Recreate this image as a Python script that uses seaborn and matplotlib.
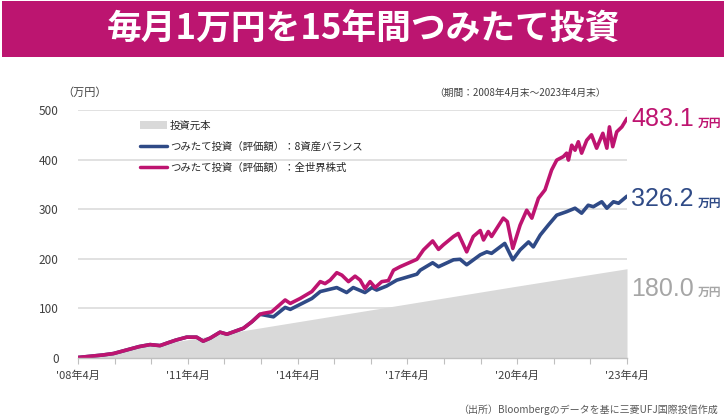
import numpy as np
import pandas as pd
import matplotlib
matplotlib.use('Agg')
import matplotlib.pyplot as plt
from matplotlib.patches import Patch, Rectangle
from matplotlib.lines import Line2D
import seaborn as sns

# data (万円), x as decimal year
principal_years = [2008.33, 2011.33, 2014.33, 2017.33, 2020.33, 2023.33]
principal_vals = [1, 37, 73, 109, 145, 180]

# both series overlap until mid 2013
shared_years = [2008.33, 2008.6, 2009.0, 2009.3, 2009.5, 2009.75, 2010.0, 2010.3, 2010.57,
                2010.8, 2011.0, 2011.3, 2011.57, 2011.75, 2011.94, 2012.21, 2012.4,
                2012.85, 2013.08, 2013.3]
shared_vals = [1, 3, 6, 9, 13, 18, 23, 27, 25, 31, 36, 42, 42, 34, 40, 52, 48, 60, 73, 88]

balance_years = [2013.39, 2013.67, 2013.99, 2014.13, 2014.72, 2014.95, 2015.4, 2015.67,
                 2015.85, 2016.17, 2016.36, 2016.49, 2016.76, 2017.04, 2017.59, 2017.68,
                 2018.02, 2018.18, 2018.59, 2018.77, 2018.95, 2019.32, 2019.5, 2019.63,
                 2019.99, 2020.21, 2020.41, 2020.64, 2020.77, 2020.96, 2021.18, 2021.41,
                 2021.68, 2021.91, 2022.09, 2022.27, 2022.41, 2022.64, 2022.78, 2022.96,
                 2023.1, 2023.33]
balance_vals = [87, 83, 102, 98, 120, 134, 142, 132, 142, 132, 142, 137, 145, 157, 169, 177,
                192, 184, 198, 199, 188, 208, 214, 211, 231, 198, 218, 234, 224, 248, 268, 288,
                295, 302, 292, 308, 305, 315, 302, 315, 312, 326.2]

world_years = [2013.39, 2013.62, 2013.99, 2014.13, 2014.4, 2014.72, 2014.95, 2015.08, 2015.22,
               2015.4, 2015.54, 2015.72, 2015.9, 2016.04, 2016.17, 2016.31, 2016.45, 2016.63,
               2016.81, 2016.95, 2017.13, 2017.59, 2017.77, 2018.02, 2018.18, 2018.31, 2018.59,
               2018.72, 2018.95, 2019.13, 2019.32, 2019.41, 2019.54, 2019.63, 2019.95, 2020.06,
               2020.21, 2020.41, 2020.59, 2020.73, 2020.91, 2021.09, 2021.27, 2021.41, 2021.59,
               2021.68, 2021.73, 2021.82, 2021.91, 2022.0, 2022.09, 2022.23, 2022.36, 2022.5,
               2022.67, 2022.78, 2022.85, 2022.94, 2023.05, 2023.19, 2023.33]
world_vals = [90, 93, 117, 110, 120, 134, 154, 150, 157, 172, 167, 154, 165, 157, 140, 154, 142,
              154, 156, 177, 184, 199, 218, 236, 219, 228, 245, 251, 214, 245, 257, 238, 255, 245,
              282, 275, 221, 268, 298, 282, 322, 339, 379, 399, 406, 413, 399, 429, 419, 436, 413,
              439, 450, 423, 453, 423, 466, 426, 456, 466, 483.1]

tick_years = [2008.33, 2011.33, 2014.33, 2017.33, 2020.33, 2023.33]
tick_labels = ["'08年4月", "'11年4月", "'14年4月", "'17年4月", "'20年4月", "'23年4月"]

MAGENTA = '#BE1470'
NAVY = '#2F4A86'
FILL = '#D9D9D9'

sns.set_theme(style='white')
plt.rcParams['font.family'] = ['Noto Sans CJK JP', 'DejaVu Sans']

balance = pd.DataFrame({'year': shared_years + balance_years, 'value': shared_vals + balance_vals})
world = pd.DataFrame({'year': shared_years + world_years, 'value': shared_vals + world_vals})

fig = plt.figure(figsize=(7.26, 4.2), dpi=100)
ax = fig.add_axes([78 / 726, 1 - 358 / 420, 549 / 726, 248 / 420])

# principal area
ax.fill_between(principal_years, 0, principal_vals, color=FILL, lw=0, zorder=1)

sns.lineplot(data=balance, x='year', y='value', ax=ax, color=NAVY, lw=2.6, zorder=3)
sns.lineplot(data=world, x='year', y='value', ax=ax, color=MAGENTA, lw=2.6, zorder=4)

ax.set_xlim(2008.33, 2023.33)
ax.set_ylim(0, 500)
ax.set_yticks([0, 100, 200, 300, 400, 500])
ax.set_xticks(tick_years)
ax.set_xticklabels(tick_labels)
ax.set_xticks(np.arange(2008.33, 2023.4, 1.0), minor=True)
ax.yaxis.grid(True, color='#DCDCDC', lw=1.2)
ax.set_axisbelow(True)
for s in ['left', 'top', 'right']:
    ax.spines[s].set_visible(False)
ax.spines['bottom'].set_color('#BFBFBF')
ax.spines['bottom'].set_linewidth(1.0)
ax.spines['bottom'].set_zorder(5)
ax.tick_params(axis='y', length=0, pad=14, labelsize=8.5, labelcolor='#404040')
ax.tick_params(axis='x', which='both', bottom=True, direction='out', length=4, width=0.8,
               color='#BFBFBF', labelsize=8, labelcolor='#404040', pad=5)
ax.set_xlabel('')
ax.set_ylabel('')

# legend
handles = [Patch(facecolor=FILL, edgecolor='none'),
           Line2D([], [], color=NAVY, lw=2.5),
           Line2D([], [], color=MAGENTA, lw=2.5)]
labels = ['投資元本', 'つみたて投資（評価額）：8資産バランス', 'つみたて投資（評価額）：全世界株式']
ax.legend(handles, labels, loc='upper left', bbox_to_anchor=(0.095, 0.995), frameon=False,
          fontsize=7.5, handlelength=2.6, handleheight=0.8, handletextpad=0.3, labelspacing=1.05)

# end labels
end_vals = [world_vals[-1], balance_vals[-1], principal_vals[-1]]
end_colors = [MAGENTA, NAVY, '#A6A6A6']
end_offsets = [-2, -6, -40]
for v, c, off in zip(end_vals, end_colors, end_offsets):
    ax.annotate('{:.1f}'.format(v), xy=(1.0, v + off), xycoords=('axes fraction', 'data'),
                xytext=(3, 0), textcoords='offset points', ha='left', va='center',
                fontsize=18, family=['Liberation Sans', 'DejaVu Sans'], color=c,
                annotation_clip=False)
    ax.annotate('万円', xy=(1.0, v + off), xycoords=('axes fraction', 'data'),
                xytext=(51, -3), textcoords='offset points', ha='left', va='center',
                fontsize=8.5, fontweight='bold', color=c, annotation_clip=False)

# title banner
fig.patches.append(Rectangle((0.003, 1 - 57 / 420), 0.994, 56 / 420, transform=fig.transFigure,
                             facecolor='#BC1570', edgecolor='none', zorder=0))
fig.text(0.5, 1 - 29 / 420, '毎月1万円を15年間つみたて投資', ha='center', va='center',
         fontsize=25, fontweight='bold', color='white')

fig.text(62 / 726, 1 - 93 / 420, '（万円）', ha='left', va='center', fontsize=8, color='#404040')
fig.text(606 / 726, 1 - 93 / 420, '（期間：2008年4月末～2023年4月末）', ha='right', va='center',
         fontsize=7, color='#404040')
fig.text(718 / 726, 1 - 410 / 420, '（出所）Bloombergのデータを基に三菱UFJ国際投信作成', ha='right',
         va='center', fontsize=7.2, color='#595959')

fig.savefig('out.png', dpi=100)
